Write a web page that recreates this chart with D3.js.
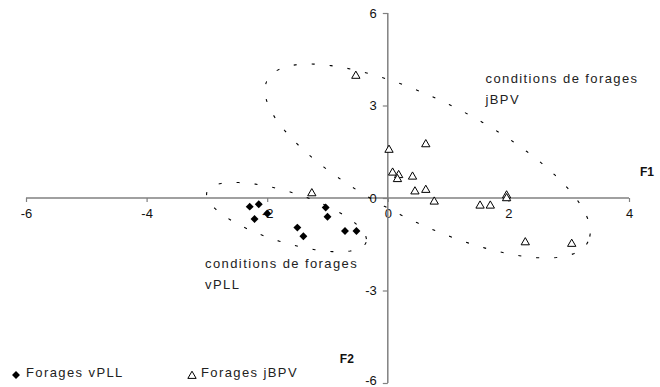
<!DOCTYPE html>
<html>
<head>
<meta charset="utf-8">
<script src="https://cdn.jsdelivr.net/npm/d3@7"></script>
<style>
  html, body { margin: 0; padding: 0; background: #fff; }
  svg { display: block; }
  text { font-family: "Liberation Sans", Arial, sans-serif; }
</style>
</head>
<body>
<svg id="chart" width="660" height="387"></svg>
<script>
// Factor scores on the first two axes (F1, F2)
const vpllF1 = [-2.29, -2.14, -2.00, -2.21, -1.50, -1.40, -1.03, -1.00, -0.71, -0.52];
const vpllF2 = [-0.28, -0.20, -0.50, -0.68, -0.96, -1.24, -0.31, -0.61, -1.07, -1.07];

const jbpvF1 = [-1.26, -0.53, 0.02, 0.63, 0.08, 0.18, 0.16, 0.41, 0.45, 0.63, 0.77, 1.53, 1.70, 1.97, 1.97, 2.28, 3.05];
const jbpvF2 = [0.15, 3.96, 1.56, 1.74, 0.82, 0.74, 0.61, 0.69, 0.21, 0.26, -0.12, -0.25, -0.25, 0.08, -0.01, -1.44, -1.49];

const xTicks = [-6, -4, -2, 0, 2, 4];
const yTicks = [-6, -3, 0, 3, 6];

const seriesNames = ["Forages vPLL", "Forages jBPV"];

// Grouping envelopes: centre and two conjugate semi-axes, in F1/F2 units
const envelopeCentres = [[0.66, 1.20], [-1.68, -0.62]];
const envelopeAxesA   = [[2.66, -2.62], [1.32, -0.81]];
const envelopeAxesB   = [[-0.45, -1.74], [-0.12, -0.78]];

const envelopeLabels = [
  ["conditions de forages", "jBPV"],
  ["conditions de forages", "vPLL"]
];

const svg = d3.select("#chart");

const x = d3.scaleLinear().domain([-6, 4]).range([26, 629]);
const y = d3.scaleLinear().domain([-6, 6]).range([383, 13]);

const axisColor = "#808080";
const fmt = d => String(d); // plain hyphen-minus
const textStyle = g => g.attr("font-size", 13).attr("fill", "#111")
  .attr("font-family", "Liberation Sans, Arial, sans-serif");

// Horizontal axis (F1) through y = 0
const xAxis = svg.append("g")
  .attr("transform", `translate(0,${y(0)})`)
  .call(d3.axisBottom(x).tickValues(xTicks).tickSize(4).tickPadding(7).tickFormat(fmt));
xAxis.select(".domain").attr("stroke", axisColor).attr("stroke-width", 1.5).attr("d", `M${x(-6)},0H${x(4)}`);
xAxis.selectAll(".tick line").attr("stroke", axisColor).attr("stroke-width", 1.2);
xAxis.selectAll(".tick text").call(textStyle);

// Vertical axis (F2) through x = 0
const yAxis = svg.append("g")
  .attr("transform", `translate(${x(0)},0)`)
  .call(d3.axisLeft(y).tickValues(yTicks).tickSize(5).tickPadding(6).tickFormat(fmt));
yAxis.select(".domain").attr("stroke", axisColor).attr("stroke-width", 1.5).attr("d", `M0,${y(6)}V${y(-6)}`);
yAxis.selectAll(".tick line").attr("stroke", axisColor).attr("stroke-width", 1.2);
yAxis.selectAll(".tick text").call(textStyle);
// keep the lowest label inside the frame
yAxis.selectAll(".tick").filter(d => d === -6).select("text").attr("dy", "0.1em");

// Axis names
svg.append("text").attr("x", x(4) + 11).attr("y", y(0) - 22)
  .attr("font-size", 12).attr("font-weight", "bold").attr("fill", "#111").text("F1");
svg.append("text").attr("x", x(0) - 48).attr("y", y(-5.35))
  .attr("font-size", 12).attr("font-weight", "bold").attr("fill", "#111").text("F2");

// Dotted envelopes
const ts = d3.range(0, 2 * Math.PI, Math.PI / 90);
const envLine = d3.line().x(d => x(d[0])).y(d => y(d[1])).curve(d3.curveLinearClosed);
envelopeCentres.forEach((c, i) => {
  const A = envelopeAxesA[i], B = envelopeAxesB[i];
  const pts = ts.map(t => [
    c[0] + A[0] * Math.cos(t) + B[0] * Math.sin(t),
    c[1] + A[1] * Math.cos(t) + B[1] * Math.sin(t)
  ]);
  svg.append("path").attr("d", envLine(pts))
    .attr("fill", "none").attr("stroke", "#000").attr("stroke-width", 1.1)
    .attr("stroke-dasharray", "3,15");
});

// Envelope labels
const labelPos = [[1.62, 3.73], [-3.03, -2.27]];
envelopeLabels.forEach((lines, i) => {
  const t = svg.append("text")
    .attr("x", x(labelPos[i][0])).attr("y", y(labelPos[i][1]))
    .attr("font-size", 13).attr("fill", "#222").attr("letter-spacing", "1.4px");
  lines.forEach((s, j) => t.append("tspan").attr("x", x(labelPos[i][0])).attr("dy", j ? 21 : 0).text(s));
});

// Markers
const diamond = d3.symbol().type(d3.symbolDiamond2).size(40);
const triangle = d3.symbol().type(d3.symbolTriangle).size(30);

svg.append("g").selectAll("path")
  .data(vpllF1.map((v, i) => [v, vpllF2[i]]))
  .join("path")
  .attr("transform", d => `translate(${x(d[0])},${y(d[1])})`)
  .attr("d", diamond).attr("fill", "#000");

svg.append("g").selectAll("path")
  .data(jbpvF1.map((v, i) => [v, jbpvF2[i]]))
  .join("path")
  .attr("transform", d => `translate(${x(d[0])},${y(d[1])})`)
  .attr("d", triangle).attr("fill", "#fff").attr("stroke", "#000").attr("stroke-width", 1);

// Legend
const legend = svg.append("g");
legend.append("path").attr("transform", "translate(16,375)").attr("d", diamond).attr("fill", "#000");
legend.append("text").attr("x", 26).attr("y", 377).attr("font-size", 13).attr("fill", "#222")
  .attr("letter-spacing", "1.4px").text(seriesNames[0]);
legend.append("path").attr("transform", "translate(192,376)").attr("d", triangle)
  .attr("fill", "#fff").attr("stroke", "#000").attr("stroke-width", 1);
legend.append("text").attr("x", 201).attr("y", 377).attr("font-size", 13).attr("fill", "#222")
  .attr("letter-spacing", "1.4px").text(seriesNames[1]);
</script>
</body>
</html>
